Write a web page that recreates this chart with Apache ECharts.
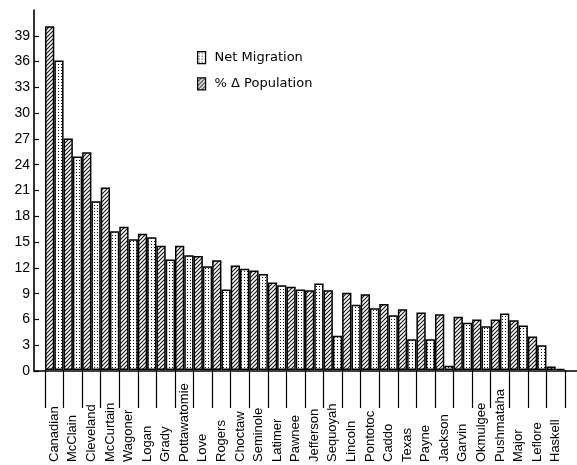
<!DOCTYPE html>
<html>
<head>
<meta charset="utf-8">
<script src="https://cdn.jsdelivr.net/npm/echarts@6/dist/echarts.min.js"></script>
<style>
  html, body { margin: 0; padding: 0; background: #fff; }
  #main { width: 577px; height: 465px; }
</style>
</head>
<body>
<div id="main"></div>
<script>
// counties, left to right
var counties = ['Canadian', 'McClain', 'Cleveland', 'McCurtain', 'Wagoner', 'Logan', 'Grady',
    'Pottawatomie', 'Love', 'Rogers', 'Choctaw', 'Seminole', 'Latimer', 'Pawnee', 'Jefferson',
    'Sequoyah', 'Lincoln', 'Pontotoc', 'Caddo', 'Texas', 'Payne', 'Jackson', 'Garvin',
    'Okmulgee', 'Pushmataha', 'Major', 'Leflore', 'Haskell'];

// % change in population (hatched bars)
var popChange = [40.1, 27.0, 25.4, 21.3, 16.7, 15.9, 14.5, 14.5, 13.3, 12.8, 12.2, 11.6, 10.2, 9.7,
    9.3, 9.3, 9.0, 8.85, 7.7, 7.1, 6.7, 6.5, 6.2, 5.9, 5.9, 5.8, 3.9, 0.4];

// net migration (dotted bars)
var netMigration = [36.1, 24.9, 19.7, 16.2, 15.25, 15.5, 12.9, 13.4, 12.1, 9.4, 11.8, 11.2, 9.9, 9.4,
    10.1, 4.0, 7.6, 7.2, 6.4, 3.6, 3.6, 0.5, 5.5, 5.1, 6.6, 5.2, 2.9, 0.1];

var yTicks = [0, 3, 6, 9, 12, 15, 18, 21, 24, 27, 30, 33, 36, 39];

function hatchPattern() {
    var c = document.createElement('canvas');
    c.width = 4; c.height = 4;
    var ctx = c.getContext('2d');
    ctx.fillStyle = '#fff';
    ctx.fillRect(0, 0, 4, 4);
    ctx.strokeStyle = '#111';
    ctx.lineWidth = 1.1;
    ctx.beginPath();
    ctx.moveTo(-1, 5); ctx.lineTo(5, -1);
    ctx.moveTo(-1, 1); ctx.lineTo(1, -1);
    ctx.moveTo(3, 5); ctx.lineTo(5, 3);
    ctx.stroke();
    return c;
}

function dotPattern() {
    var c = document.createElement('canvas');
    c.width = 3; c.height = 3;
    var ctx = c.getContext('2d');
    ctx.fillStyle = '#fff';
    ctx.fillRect(0, 0, 3, 3);
    ctx.fillStyle = '#111';
    ctx.fillRect(1, 1, 1, 1);
    return c;
}

var myChart = echarts.init(document.getElementById('main'));

var font = '"Liberation Sans", Arial, sans-serif';

var option = {
    backgroundColor: '#fff',
    animation: false,
    legend: {
        orient: 'vertical',
        left: 192,
        top: 46,
        itemWidth: 8,
        itemHeight: 12,
        itemGap: 13,
        icon: 'rect',
        data: ['Net Migration', '% Δ Population'],
        itemStyle: { borderColor: '#000', borderWidth: 1.2 },
        textStyle: {
            color: '#000',
            fontFamily: '"DejaVu Sans", sans-serif',
            fontSize: 13,
            padding: [0, 0, 0, 4]
        }
    },
    grid: [
        { left: 34, right: 0, top: 10, bottom: 94 },
        { left: 45, right: 12, top: 10, bottom: 94 }
    ],
    xAxis: [
        {
            gridIndex: 0,
            type: 'value',
            min: 0,
            max: 1,
            axisLine: { show: true, lineStyle: { color: '#000', width: 1.6 } },
            axisTick: { show: false },
            axisLabel: { show: false },
            splitLine: { show: false }
        },
        {
            gridIndex: 1,
            type: 'category',
            data: counties,
            axisLine: { show: false },
            axisTick: {
                show: true,
                interval: 0,
                alignWithLabel: false,
                length: 38,
                lineStyle: { color: '#000', width: 1.2 }
            },
            axisLabel: {
                interval: 0,
                rotate: 90,
                align: 'left',
                verticalAlign: 'middle',
                margin: 92,
                color: '#000',
                fontFamily: font,
                fontSize: 13
            }
        }
    ],
    yAxis: [
        {
            gridIndex: 0,
            type: 'value',
            min: 0,
            max: 42,
            axisLine: { show: true, lineStyle: { color: '#000', width: 1.6 } },
            axisTick: {
                show: true,
                inside: true,
                length: 5,
                customValues: yTicks,
                lineStyle: { color: '#000', width: 1.2 }
            },
            axisLabel: {
                customValues: yTicks,
                margin: 4,
                color: '#000',
                fontFamily: font,
                fontSize: 14
            },
            splitLine: { show: false }
        },
        {
            gridIndex: 1,
            type: 'value',
            min: 0,
            max: 42,
            show: false
        }
    ],
    series: [
        {
            name: '% Δ Population',
            type: 'bar',
            xAxisIndex: 1,
            yAxisIndex: 1,
            barWidth: 9.3,
            barGap: '0%',
            itemStyle: {
                color: { image: hatchPattern(), repeat: 'repeat' },
                borderColor: '#000',
                borderWidth: 1.5
            },
            data: popChange
        },
        {
            name: 'Net Migration',
            type: 'bar',
            xAxisIndex: 1,
            yAxisIndex: 1,
            barWidth: 9.3,
            barGap: '0%',
            itemStyle: {
                color: { image: dotPattern(), repeat: 'repeat' },
                borderColor: '#000',
                borderWidth: 1.5
            },
            data: netMigration
        }
    ]
};

option && myChart.setOption(option);
</script>
</body>
</html>
